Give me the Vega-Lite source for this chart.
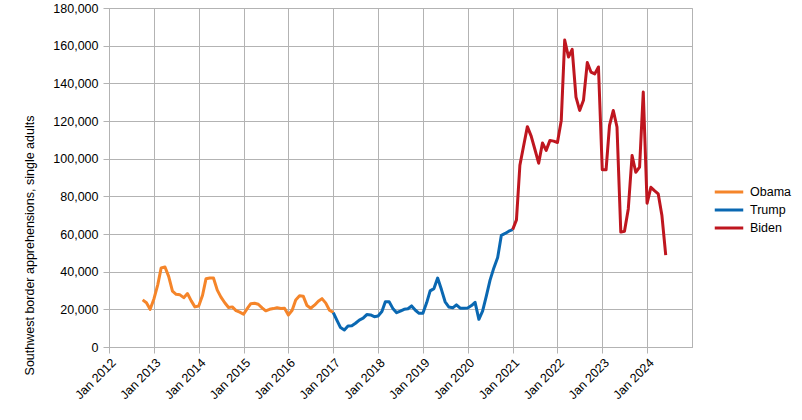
{
  "$schema": "https://vega.github.io/schema/vega-lite/v6.json",
  "width": 583,
  "height": 339,
  "autosize": "none",
  "padding": {"left": 109, "top": 8, "right": 110, "bottom": 73},
  "datasets": {
    "monthly": [
      {"month": "2012/10/01", "president": "Obama", "apprehensions": 25000},
      {"month": "2012/11/01", "president": "Obama", "apprehensions": 23500},
      {"month": "2012/12/01", "president": "Obama", "apprehensions": 20000},
      {"month": "2013/01/01", "president": "Obama", "apprehensions": 25500},
      {"month": "2013/02/01", "president": "Obama", "apprehensions": 33000},
      {"month": "2013/03/01", "president": "Obama", "apprehensions": 42000},
      {"month": "2013/04/01", "president": "Obama", "apprehensions": 42500},
      {"month": "2013/05/01", "president": "Obama", "apprehensions": 37500},
      {"month": "2013/06/01", "president": "Obama", "apprehensions": 29700},
      {"month": "2013/07/01", "president": "Obama", "apprehensions": 28000},
      {"month": "2013/08/01", "president": "Obama", "apprehensions": 27700},
      {"month": "2013/09/01", "president": "Obama", "apprehensions": 26200},
      {"month": "2013/10/01", "president": "Obama", "apprehensions": 28400},
      {"month": "2013/11/01", "president": "Obama", "apprehensions": 24500},
      {"month": "2013/12/01", "president": "Obama", "apprehensions": 21300},
      {"month": "2014/01/01", "president": "Obama", "apprehensions": 21800},
      {"month": "2014/02/01", "president": "Obama", "apprehensions": 27500},
      {"month": "2014/03/01", "president": "Obama", "apprehensions": 36200},
      {"month": "2014/04/01", "president": "Obama", "apprehensions": 36600},
      {"month": "2014/05/01", "president": "Obama", "apprehensions": 36600},
      {"month": "2014/06/01", "president": "Obama", "apprehensions": 30200},
      {"month": "2014/07/01", "president": "Obama", "apprehensions": 26500},
      {"month": "2014/08/01", "president": "Obama", "apprehensions": 23500},
      {"month": "2014/09/01", "president": "Obama", "apprehensions": 21000},
      {"month": "2014/10/01", "president": "Obama", "apprehensions": 21300},
      {"month": "2014/11/01", "president": "Obama", "apprehensions": 19300},
      {"month": "2014/12/01", "president": "Obama", "apprehensions": 18500},
      {"month": "2015/01/01", "president": "Obama", "apprehensions": 17400},
      {"month": "2015/02/01", "president": "Obama", "apprehensions": 20500},
      {"month": "2015/03/01", "president": "Obama", "apprehensions": 23000},
      {"month": "2015/04/01", "president": "Obama", "apprehensions": 23200},
      {"month": "2015/05/01", "president": "Obama", "apprehensions": 22700},
      {"month": "2015/06/01", "president": "Obama", "apprehensions": 20800},
      {"month": "2015/07/01", "president": "Obama", "apprehensions": 19200},
      {"month": "2015/08/01", "president": "Obama", "apprehensions": 20000},
      {"month": "2015/09/01", "president": "Obama", "apprehensions": 20400},
      {"month": "2015/10/01", "president": "Obama", "apprehensions": 20900},
      {"month": "2015/11/01", "president": "Obama", "apprehensions": 20400},
      {"month": "2015/12/01", "president": "Obama", "apprehensions": 20600},
      {"month": "2016/01/01", "president": "Obama", "apprehensions": 17000},
      {"month": "2016/02/01", "president": "Obama", "apprehensions": 19500},
      {"month": "2016/03/01", "president": "Obama", "apprehensions": 25000},
      {"month": "2016/04/01", "president": "Obama", "apprehensions": 27200},
      {"month": "2016/05/01", "president": "Obama", "apprehensions": 27000},
      {"month": "2016/06/01", "president": "Obama", "apprehensions": 22000},
      {"month": "2016/07/01", "president": "Obama", "apprehensions": 20600},
      {"month": "2016/08/01", "president": "Obama", "apprehensions": 22200},
      {"month": "2016/09/01", "president": "Obama", "apprehensions": 24300},
      {"month": "2016/10/01", "president": "Obama", "apprehensions": 25700},
      {"month": "2016/11/01", "president": "Obama", "apprehensions": 23300},
      {"month": "2016/12/01", "president": "Obama", "apprehensions": 19500},
      {"month": "2017/01/01", "president": "Obama", "apprehensions": 18300},
      {"month": "2017/01/01", "president": "Trump", "apprehensions": 18300},
      {"month": "2017/02/01", "president": "Trump", "apprehensions": 14000},
      {"month": "2017/03/01", "president": "Trump", "apprehensions": 10300},
      {"month": "2017/04/01", "president": "Trump", "apprehensions": 9000},
      {"month": "2017/05/01", "president": "Trump", "apprehensions": 11200},
      {"month": "2017/06/01", "president": "Trump", "apprehensions": 11300},
      {"month": "2017/07/01", "president": "Trump", "apprehensions": 12600},
      {"month": "2017/08/01", "president": "Trump", "apprehensions": 14300},
      {"month": "2017/09/01", "president": "Trump", "apprehensions": 15300},
      {"month": "2017/10/01", "president": "Trump", "apprehensions": 17200},
      {"month": "2017/11/01", "president": "Trump", "apprehensions": 17000},
      {"month": "2017/12/01", "president": "Trump", "apprehensions": 16100},
      {"month": "2018/01/01", "president": "Trump", "apprehensions": 16500},
      {"month": "2018/02/01", "president": "Trump", "apprehensions": 18800},
      {"month": "2018/03/01", "president": "Trump", "apprehensions": 24000},
      {"month": "2018/04/01", "president": "Trump", "apprehensions": 24000},
      {"month": "2018/05/01", "president": "Trump", "apprehensions": 20500},
      {"month": "2018/06/01", "president": "Trump", "apprehensions": 18200},
      {"month": "2018/07/01", "president": "Trump", "apprehensions": 19000},
      {"month": "2018/08/01", "president": "Trump", "apprehensions": 20000},
      {"month": "2018/09/01", "president": "Trump", "apprehensions": 20300},
      {"month": "2018/10/01", "president": "Trump", "apprehensions": 21800},
      {"month": "2018/11/01", "president": "Trump", "apprehensions": 19500},
      {"month": "2018/12/01", "president": "Trump", "apprehensions": 17900},
      {"month": "2019/01/01", "president": "Trump", "apprehensions": 17900},
      {"month": "2019/02/01", "president": "Trump", "apprehensions": 23600},
      {"month": "2019/03/01", "president": "Trump", "apprehensions": 29800},
      {"month": "2019/04/01", "president": "Trump", "apprehensions": 31000},
      {"month": "2019/05/01", "president": "Trump", "apprehensions": 36600},
      {"month": "2019/06/01", "president": "Trump", "apprehensions": 30500},
      {"month": "2019/07/01", "president": "Trump", "apprehensions": 24000},
      {"month": "2019/08/01", "president": "Trump", "apprehensions": 21200},
      {"month": "2019/09/01", "president": "Trump", "apprehensions": 20800},
      {"month": "2019/10/01", "president": "Trump", "apprehensions": 22400},
      {"month": "2019/11/01", "president": "Trump", "apprehensions": 20600},
      {"month": "2019/12/01", "president": "Trump", "apprehensions": 20600},
      {"month": "2020/01/01", "president": "Trump", "apprehensions": 20700},
      {"month": "2020/02/01", "president": "Trump", "apprehensions": 22000},
      {"month": "2020/03/01", "president": "Trump", "apprehensions": 23700},
      {"month": "2020/04/01", "president": "Trump", "apprehensions": 14700},
      {"month": "2020/05/01", "president": "Trump", "apprehensions": 19000},
      {"month": "2020/06/01", "president": "Trump", "apprehensions": 27200},
      {"month": "2020/07/01", "president": "Trump", "apprehensions": 35500},
      {"month": "2020/08/01", "president": "Trump", "apprehensions": 42000},
      {"month": "2020/09/01", "president": "Trump", "apprehensions": 47500},
      {"month": "2020/10/01", "president": "Trump", "apprehensions": 59300},
      {"month": "2020/11/01", "president": "Trump", "apprehensions": 60300},
      {"month": "2020/12/01", "president": "Trump", "apprehensions": 61500},
      {"month": "2021/01/01", "president": "Trump", "apprehensions": 62300},
      {"month": "2021/01/01", "president": "Biden", "apprehensions": 62300},
      {"month": "2021/02/01", "president": "Biden", "apprehensions": 67500},
      {"month": "2021/03/01", "president": "Biden", "apprehensions": 96500},
      {"month": "2021/04/01", "president": "Biden", "apprehensions": 107000},
      {"month": "2021/05/01", "president": "Biden", "apprehensions": 117000},
      {"month": "2021/06/01", "president": "Biden", "apprehensions": 112000},
      {"month": "2021/07/01", "president": "Biden", "apprehensions": 105000},
      {"month": "2021/08/01", "president": "Biden", "apprehensions": 97600},
      {"month": "2021/09/01", "president": "Biden", "apprehensions": 108300},
      {"month": "2021/10/01", "president": "Biden", "apprehensions": 104400},
      {"month": "2021/11/01", "president": "Biden", "apprehensions": 109700},
      {"month": "2021/12/01", "president": "Biden", "apprehensions": 109300},
      {"month": "2022/01/01", "president": "Biden", "apprehensions": 108600},
      {"month": "2022/02/01", "president": "Biden", "apprehensions": 120300},
      {"month": "2022/03/01", "president": "Biden", "apprehensions": 163000},
      {"month": "2022/04/01", "president": "Biden", "apprehensions": 154000},
      {"month": "2022/05/01", "president": "Biden", "apprehensions": 158000},
      {"month": "2022/06/01", "president": "Biden", "apprehensions": 132700},
      {"month": "2022/07/01", "president": "Biden", "apprehensions": 125600},
      {"month": "2022/08/01", "president": "Biden", "apprehensions": 131000},
      {"month": "2022/09/01", "president": "Biden", "apprehensions": 151000},
      {"month": "2022/10/01", "president": "Biden", "apprehensions": 146000},
      {"month": "2022/11/01", "president": "Biden", "apprehensions": 145000},
      {"month": "2022/12/01", "president": "Biden", "apprehensions": 148700},
      {"month": "2023/01/01", "president": "Biden", "apprehensions": 94100},
      {"month": "2023/02/01", "president": "Biden", "apprehensions": 94100},
      {"month": "2023/03/01", "president": "Biden", "apprehensions": 117700},
      {"month": "2023/04/01", "president": "Biden", "apprehensions": 125600},
      {"month": "2023/05/01", "president": "Biden", "apprehensions": 116800},
      {"month": "2023/06/01", "president": "Biden", "apprehensions": 61000},
      {"month": "2023/07/01", "president": "Biden", "apprehensions": 61500},
      {"month": "2023/08/01", "president": "Biden", "apprehensions": 73300},
      {"month": "2023/09/01", "president": "Biden", "apprehensions": 101700},
      {"month": "2023/10/01", "president": "Biden", "apprehensions": 92800},
      {"month": "2023/11/01", "president": "Biden", "apprehensions": 95500},
      {"month": "2023/12/01", "president": "Biden", "apprehensions": 135400},
      {"month": "2024/01/01", "president": "Biden", "apprehensions": 76300},
      {"month": "2024/02/01", "president": "Biden", "apprehensions": 84800},
      {"month": "2024/03/01", "president": "Biden", "apprehensions": 83000},
      {"month": "2024/04/01", "president": "Biden", "apprehensions": 81300},
      {"month": "2024/05/01", "president": "Biden", "apprehensions": 69800},
      {"month": "2024/06/01", "president": "Biden", "apprehensions": 48800}
    ]
  },
  "data": {"name": "monthly"},
  "mark": {"type": "line", "strokeWidth": 3, "strokeJoin": "round"},
  "encoding": {
    "x": {
      "field": "month",
      "type": "temporal",
      "scale": {
        "domain": [
          {"year": 2012, "month": 1, "date": 1},
          {"year": 2025, "month": 1, "date": 1}
        ]
      },
      "axis": {
        "title": null,
        "format": "%b %Y",
        "labelAngle": -45,
        "labelAlign": "right",
        "labelBaseline": "top",
        "labelPadding": 3,
        "labelOverlap": false,
        "tickSize": 6,
        "values": [
          {"year": 2012, "month": 1, "date": 1},
          {"year": 2013, "month": 1, "date": 1},
          {"year": 2014, "month": 1, "date": 1},
          {"year": 2015, "month": 1, "date": 1},
          {"year": 2016, "month": 1, "date": 1},
          {"year": 2017, "month": 1, "date": 1},
          {"year": 2018, "month": 1, "date": 1},
          {"year": 2019, "month": 1, "date": 1},
          {"year": 2020, "month": 1, "date": 1},
          {"year": 2021, "month": 1, "date": 1},
          {"year": 2022, "month": 1, "date": 1},
          {"year": 2023, "month": 1, "date": 1},
          {"year": 2024, "month": 1, "date": 1}
        ]
      }
    },
    "y": {
      "field": "apprehensions",
      "type": "quantitative",
      "scale": {"domain": [0, 180000], "nice": false},
      "axis": {
        "title": "Southwest border apprehensions, single adults",
        "values": [0, 20000, 40000, 60000, 80000, 100000, 120000, 140000, 160000, 180000],
        "format": ",.0f",
        "tickSize": 6,
        "labelPadding": 5,
        "labelOverlap": false,
        "titleAngle": -90,
        "titleX": -76,
        "titleY": 237,
        "titleAlign": "center",
        "titleBaseline": "alphabetic"
      }
    },
    "color": {
      "field": "president",
      "type": "nominal",
      "scale": {
        "domain": ["Obama", "Trump", "Biden"],
        "range": ["#f5852a", "#0a68b2", "#bf161f"]
      },
      "legend": {
        "title": null,
        "orient": "none",
        "legendX": 609,
        "legendY": 173,
        "symbolType": "M-1.5,0H1.5",
        "symbolSize": 361,
        "symbolStrokeWidth": 3,
        "symbolFillColor": "transparent",
        "labelOffset": 10,
        "rowPadding": 0,
        "padding": 0
      }
    }
  },
  "config": {
    "font": "Liberation Sans",
    "view": {"stroke": "#b3b3b3"},
    "axis": {
      "gridColor": "#b3b3b3",
      "gridOpacity": 1,
      "domainColor": "#b3b3b3",
      "tickColor": "#b3b3b3",
      "labelColor": "#000000",
      "labelFontSize": 12.5,
      "titleColor": "#000000",
      "titleFontSize": 12.5,
      "titleFontWeight": "normal"
    },
    "legend": {
      "labelColor": "#000000",
      "labelFontSize": 12.5
    }
  }
}
